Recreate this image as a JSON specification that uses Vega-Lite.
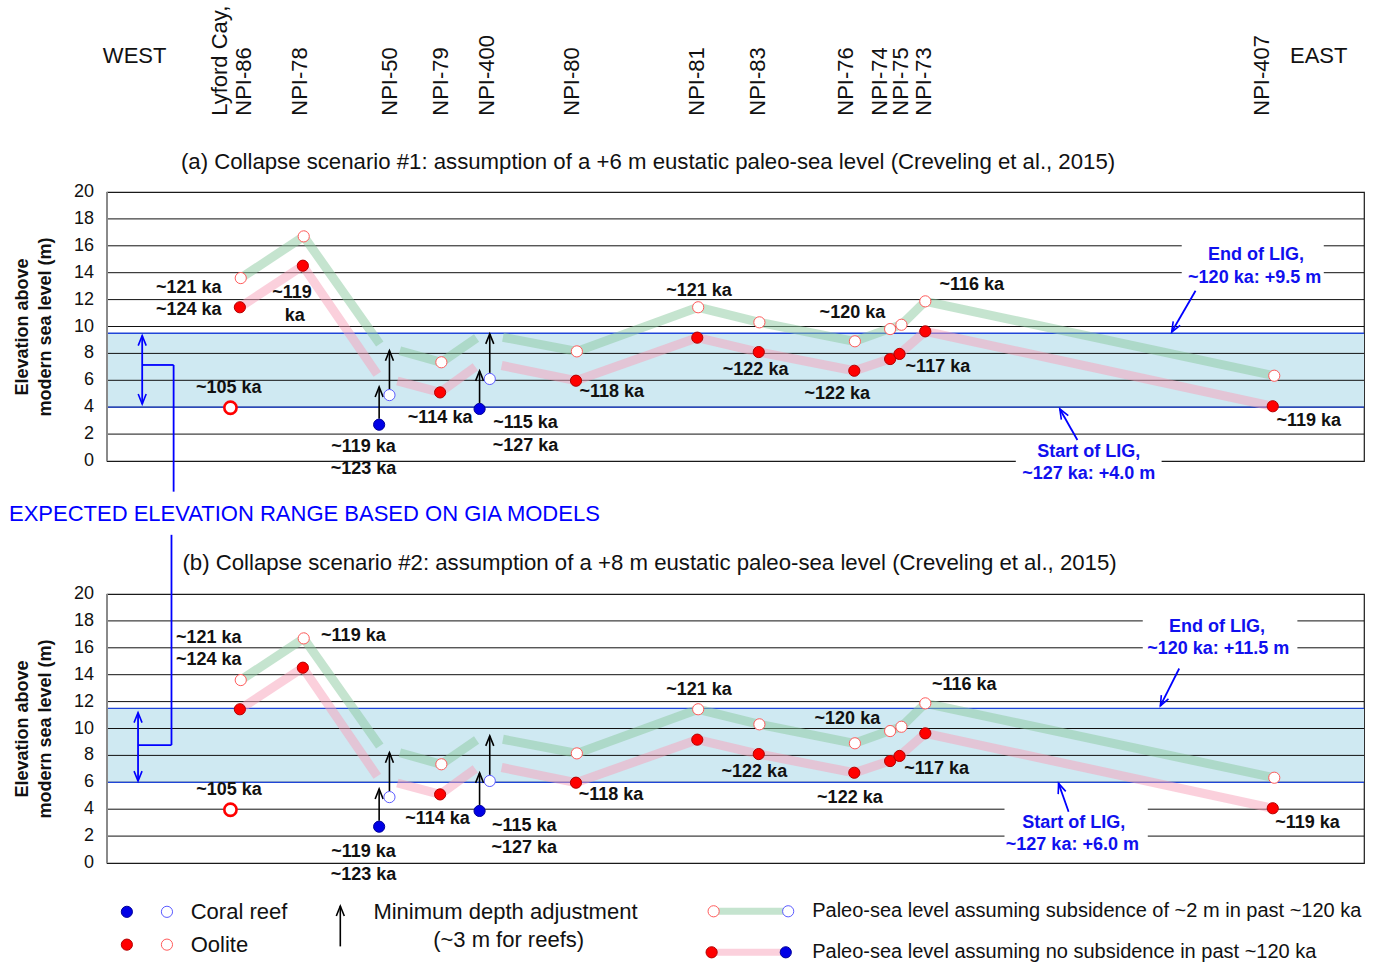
{
  "$schema": "https://vega.github.io/schema/vega-lite/v6.json",
  "background": "white",
  "padding": {"left": 8, "top": 5, "right": 5, "bottom": 0},
  "bounds": "flush",
  "spacing": 133,
  "config": {
    "font": "Liberation Sans",
    "view": {"stroke": "#1a1a1a", "strokeWidth": 1.2}
  },
  "datasets": {
    "grid": [{"y": 2}, {"y": 4}, {"y": 6}, {"y": 8}, {"y": 10}, {"y": 12}, {"y": 14}, {"y": 16}, {"y": 18}],
    "yticks": [
      {"t": "0", "x": -1.03, "y": 0}, {"t": "2", "x": -1.03, "y": 2}, {"t": "4", "x": -1.03, "y": 4},
      {"t": "6", "x": -1.03, "y": 6}, {"t": "8", "x": -1.03, "y": 8}, {"t": "10", "x": -1.03, "y": 10},
      {"t": "12", "x": -1.03, "y": 12}, {"t": "14", "x": -1.03, "y": 14}, {"t": "16", "x": -1.03, "y": 16},
      {"t": "18", "x": -1.03, "y": 18}, {"t": "20", "x": -1.03, "y": 20}
    ],
    "ytitle": [
      {"t": "Elevation above", "x": -6.7, "y": 9.96},
      {"t": "modern sea level (m)", "x": -4.85, "y": 9.96}
    ],
    "leftEdge": [{"x": 0, "y": 0, "y2": 20}],
    "bandA": [{"y": 4.0, "y2": 9.5}],
    "bandB": [{"y": 6.0, "y2": 11.5}],
    "edgesA": [{"y": 4.0}, {"y": 9.5}],
    "edgesB": [{"y": 6.0}, {"y": 11.5}],
    "boxA": [{"x": 85.5, "x2": 96.8, "y": 12.6, "y2": 17.0}, {"x": 72.3, "x2": 83.9, "y": -2.5, "y2": 1.7}],
    "boxB": [{"x": 82.4, "x2": 94.7, "y": 14.8, "y2": 19.0}, {"x": 71.4, "x2": 82.8, "y": 0.5, "y2": 5.0}],
    "pts": [
      {"station": "NPI-86", "x": 10.64, "y": 13.6, "k": "oolite_open"},
      {"station": "NPI-86", "x": 10.57, "y": 11.43, "k": "oolite_filled"},
      {"station": "NPI-78", "x": 15.65, "y": 16.7, "k": "oolite_open"},
      {"station": "NPI-78", "x": 15.58, "y": 14.52, "k": "oolite_filled"},
      {"station": "NPI-50", "x": 22.47, "y": 4.9, "k": "reef_open"},
      {"station": "NPI-50", "x": 21.65, "y": 2.7, "k": "reef_filled"},
      {"station": "NPI-79", "x": 26.6, "y": 7.34, "k": "oolite_open"},
      {"station": "NPI-79", "x": 26.5, "y": 5.1, "k": "oolite_filled"},
      {"station": "NPI-400", "x": 30.45, "y": 6.1, "k": "reef_open"},
      {"station": "NPI-400", "x": 29.64, "y": 3.87, "k": "reef_filled"},
      {"station": "NPI-80", "x": 37.38, "y": 8.15, "k": "oolite_open"},
      {"station": "NPI-80", "x": 37.31, "y": 5.97, "k": "oolite_filled"},
      {"station": "NPI-81", "x": 47.03, "y": 11.43, "k": "oolite_open"},
      {"station": "NPI-81", "x": 46.96, "y": 9.17, "k": "oolite_filled"},
      {"station": "NPI-83", "x": 51.9, "y": 10.31, "k": "oolite_open"},
      {"station": "NPI-83", "x": 51.85, "y": 8.1, "k": "oolite_filled"},
      {"station": "NPI-76", "x": 59.5, "y": 8.9, "k": "oolite_open"},
      {"station": "NPI-76", "x": 59.45, "y": 6.71, "k": "oolite_filled"},
      {"station": "NPI-74", "x": 62.3, "y": 9.81, "k": "oolite_open"},
      {"station": "NPI-74", "x": 62.3, "y": 7.58, "k": "oolite_filled"},
      {"station": "NPI-75", "x": 63.2, "y": 10.13, "k": "oolite_open"},
      {"station": "NPI-75", "x": 63.05, "y": 7.96, "k": "oolite_filled"},
      {"station": "NPI-73", "x": 65.1, "y": 11.87, "k": "oolite_open"},
      {"station": "NPI-73", "x": 65.1, "y": 9.64, "k": "oolite_filled"},
      {"station": "NPI-407", "x": 92.86, "y": 6.34, "k": "oolite_open"},
      {"station": "NPI-407", "x": 92.74, "y": 4.07, "k": "oolite_filled"}
    ],
    "ring": [{"station": "Lyford Cay", "x": 9.82, "y": 3.96}],
    "paths": [
      {"s": "subsidence ~2 m", "seg": "g1", "x": 10.64, "y": 13.6},
      {"s": "subsidence ~2 m", "seg": "g1", "x": 15.65, "y": 16.7},
      {"s": "subsidence ~2 m", "seg": "g1", "x": 21.7, "y": 8.7},
      {"s": "subsidence ~2 m", "seg": "g2", "x": 23.3, "y": 8.2},
      {"s": "subsidence ~2 m", "seg": "g2", "x": 26.6, "y": 7.34},
      {"s": "subsidence ~2 m", "seg": "g2", "x": 29.4, "y": 9.15},
      {"s": "subsidence ~2 m", "seg": "g3", "x": 31.5, "y": 9.2},
      {"s": "subsidence ~2 m", "seg": "g3", "x": 37.38, "y": 8.15},
      {"s": "subsidence ~2 m", "seg": "g3", "x": 47.03, "y": 11.43},
      {"s": "subsidence ~2 m", "seg": "g3", "x": 51.9, "y": 10.31},
      {"s": "subsidence ~2 m", "seg": "g3", "x": 59.45, "y": 8.9},
      {"s": "subsidence ~2 m", "seg": "g3", "x": 62.3, "y": 9.85},
      {"s": "subsidence ~2 m", "seg": "g3", "x": 63.2, "y": 10.13},
      {"s": "subsidence ~2 m", "seg": "g3", "x": 65.1, "y": 11.87},
      {"s": "subsidence ~2 m", "seg": "g3", "x": 92.86, "y": 6.34},
      {"s": "no subsidence", "seg": "p1", "x": 10.57, "y": 11.43},
      {"s": "no subsidence", "seg": "p1", "x": 15.58, "y": 14.52},
      {"s": "no subsidence", "seg": "p1", "x": 21.5, "y": 6.45},
      {"s": "no subsidence", "seg": "p2", "x": 23.1, "y": 5.95},
      {"s": "no subsidence", "seg": "p2", "x": 26.5, "y": 5.1},
      {"s": "no subsidence", "seg": "p2", "x": 29.3, "y": 7.0},
      {"s": "no subsidence", "seg": "p3", "x": 31.4, "y": 7.1},
      {"s": "no subsidence", "seg": "p3", "x": 37.31, "y": 5.97},
      {"s": "no subsidence", "seg": "p3", "x": 46.96, "y": 9.17},
      {"s": "no subsidence", "seg": "p3", "x": 51.85, "y": 8.1},
      {"s": "no subsidence", "seg": "p3", "x": 59.45, "y": 6.71},
      {"s": "no subsidence", "seg": "p3", "x": 62.3, "y": 7.6},
      {"s": "no subsidence", "seg": "p3", "x": 63.05, "y": 7.96},
      {"s": "no subsidence", "seg": "p3", "x": 65.1, "y": 9.64},
      {"s": "no subsidence", "seg": "p3", "x": 92.74, "y": 4.07}
    ],
    "adj": [
      {"x": 21.65, "y": 3.15, "y2": 5.5},
      {"x": 22.47, "y": 5.35, "y2": 8.2},
      {"x": 29.64, "y": 4.3, "y2": 6.7},
      {"x": 30.45, "y": 6.55, "y2": 9.45}
    ],
    "adjHeads": [
      {"x": 21.65, "y": 5.5},
      {"x": 22.47, "y": 8.2},
      {"x": 29.64, "y": 6.7},
      {"x": 30.45, "y": 9.45}
    ],
    "blueA": [
      {"x": 2.8, "y": 4.24, "x2": 2.8, "y2": 9.32},
      {"x": 2.8, "y": 7.14, "x2": 5.3, "y2": 7.14},
      {"x": 5.3, "y": 7.14, "x2": 5.3, "y2": -2.28},
      {"x": 86.6, "y": 12.66, "x2": 84.7, "y2": 9.59},
      {"x": 77.2, "y": 1.56, "x2": 75.8, "y2": 3.87}
    ],
    "blueHeadsA": [
      {"x": 2.8, "y": 9.32, "ang": 0},
      {"x": 2.8, "y": 4.24, "ang": 180},
      {"x": 84.7, "y": 9.59, "ang": 210},
      {"x": 75.8, "y": 3.87, "ang": 330}
    ],
    "blueB": [
      {"x": 2.47, "y": 6.09, "x2": 2.47, "y2": 11.18},
      {"x": 2.47, "y": 8.77, "x2": 5.13, "y2": 8.77},
      {"x": 5.13, "y": 8.77, "x2": 5.13, "y2": 24.4},
      {"x": 85.3, "y": 14.46, "x2": 83.8, "y2": 11.68},
      {"x": 76.5, "y": 3.81, "x2": 75.7, "y2": 5.92}
    ],
    "blueHeadsB": [
      {"x": 2.47, "y": 11.18, "ang": 0},
      {"x": 2.47, "y": 6.09, "ang": 180},
      {"x": 83.8, "y": 11.68, "ang": 207},
      {"x": 75.7, "y": 5.92, "ang": 340}
    ],
    "labA": [
      {"t": "~121 ka", "x": 6.5, "y": 12.86},
      {"t": "~124 ka", "x": 6.5, "y": 11.2},
      {"t": "~119", "x": 14.72, "y": 12.47},
      {"t": "ka", "x": 14.94, "y": 10.8},
      {"t": "~105 ka", "x": 9.68, "y": 5.4},
      {"t": "~119 ka", "x": 20.4, "y": 1.07},
      {"t": "~123 ka", "x": 20.4, "y": -0.6},
      {"t": "~114 ka", "x": 26.5, "y": 3.2},
      {"t": "~115 ka", "x": 33.3, "y": 2.8},
      {"t": "~127 ka", "x": 33.3, "y": 1.14},
      {"t": "~118 ka", "x": 40.15, "y": 5.1},
      {"t": "~121 ka", "x": 47.1, "y": 12.64},
      {"t": "~122 ka", "x": 51.6, "y": 6.8},
      {"t": "~120 ka", "x": 59.3, "y": 11.0},
      {"t": "~122 ka", "x": 58.1, "y": 4.98},
      {"t": "~116 ka", "x": 68.8, "y": 13.05},
      {"t": "~117 ka", "x": 66.1, "y": 6.98},
      {"t": "~119 ka", "x": 95.6, "y": 3.0}
    ],
    "ligA": [
      {"t": "End of LIG,", "x": 91.4, "y": 15.28},
      {"t": "~120 ka: +9.5 m", "x": 91.3, "y": 13.6},
      {"t": "Start of LIG,", "x": 78.1, "y": 0.68},
      {"t": "~127 ka: +4.0 m", "x": 78.1, "y": -0.96}
    ],
    "labB": [
      {"t": "~121 ka", "x": 8.1, "y": 16.72},
      {"t": "~124 ka", "x": 8.1, "y": 15.08},
      {"t": "~119 ka", "x": 19.6, "y": 16.89},
      {"t": "~105 ka", "x": 9.7, "y": 5.42},
      {"t": "~119 ka", "x": 20.4, "y": 0.8},
      {"t": "~123 ka", "x": 20.4, "y": -0.86},
      {"t": "~114 ka", "x": 26.3, "y": 3.24},
      {"t": "~115 ka", "x": 33.2, "y": 2.74},
      {"t": "~127 ka", "x": 33.2, "y": 1.13},
      {"t": "~118 ka", "x": 40.1, "y": 5.03},
      {"t": "~121 ka", "x": 47.1, "y": 12.84},
      {"t": "~122 ka", "x": 51.5, "y": 6.79},
      {"t": "~120 ka", "x": 58.9, "y": 10.69},
      {"t": "~122 ka", "x": 59.1, "y": 4.85},
      {"t": "~116 ka", "x": 68.2, "y": 13.22},
      {"t": "~117 ka", "x": 66.0, "y": 7.01},
      {"t": "~119 ka", "x": 95.5, "y": 2.99}
    ],
    "ligB": [
      {"t": "End of LIG,", "x": 88.3, "y": 17.56},
      {"t": "~120 ka: +11.5 m", "x": 88.4, "y": 15.9},
      {"t": "Start of LIG,", "x": 76.9, "y": 2.99},
      {"t": "~127 ka: +6.0 m", "x": 76.8, "y": 1.33}
    ],
    "stations": [
      {"t": "Lyford Cay,", "x": 8.97, "y": 25.67},
      {"t": "NPI-86", "x": 10.92, "y": 25.67},
      {"t": "NPI-78", "x": 15.37, "y": 25.67},
      {"t": "NPI-50", "x": 22.5, "y": 25.67},
      {"t": "NPI-79", "x": 26.6, "y": 25.67},
      {"t": "NPI-400", "x": 30.2, "y": 25.67},
      {"t": "NPI-80", "x": 37.0, "y": 25.67},
      {"t": "NPI-81", "x": 46.9, "y": 25.67},
      {"t": "NPI-83", "x": 51.8, "y": 25.67},
      {"t": "NPI-76", "x": 58.8, "y": 25.67},
      {"t": "NPI-74", "x": 61.5, "y": 25.67},
      {"t": "NPI-75", "x": 63.2, "y": 25.67},
      {"t": "NPI-73", "x": 65.0, "y": 25.67},
      {"t": "NPI-407", "x": 91.9, "y": 25.67}
    ],
    "ends": [
      {"t": "WEST", "x": 2.2, "y": 30.09},
      {"t": "EAST", "x": 96.4, "y": 30.09}
    ],
    "titleA": [{"t": "(a) Collapse scenario #1: assumption of a +6 m eustatic paleo-sea level (Creveling et al., 2015)", "x": 43.04, "y": 22.23}],
    "titleB": [{"t": "(b) Collapse scenario #2: assumption of a +8 m eustatic paleo-sea level (Creveling et al., 2015)", "x": 43.16, "y": 22.31}],
    "gia": [{"t": "EXPECTED ELEVATION RANGE BASED ON GIA MODELS", "x": -7.8, "y": -3.94}],
    "legendPts": [
      {"x": 1.58, "y": -3.63, "k": "reef_filled"},
      {"x": 4.77, "y": -3.63, "k": "reef_open"},
      {"x": 1.58, "y": -6.07, "k": "oolite_filled"},
      {"x": 4.77, "y": -6.07, "k": "oolite_open"},
      {"x": 48.26, "y": -3.59, "k": "oolite_open"},
      {"x": 54.19, "y": -3.59, "k": "reef_open"},
      {"x": 48.1, "y": -6.64, "k": "oolite_filled"},
      {"x": 54.0, "y": -6.64, "k": "reef_filled"}
    ],
    "legendBars": [
      {"s": "subsidence ~2 m", "x": 48.26, "x2": 54.19, "y": -3.59},
      {"s": "no subsidence", "x": 48.1, "x2": 54.0, "y": -6.64}
    ],
    "legendAdj": [{"x": 18.56, "y": -6.2, "y2": -3.2}],
    "legendAdjHead": [{"x": 18.56, "y": -3.2}],
    "legendTextL": [
      {"t": "Coral reef", "x": 6.66, "y": -3.63},
      {"t": "Oolite", "x": 6.66, "y": -6.07}
    ],
    "legendTextC": [
      {"t": "Minimum depth adjustment", "x": 31.7, "y": -3.63},
      {"t": "(~3 m for reefs)", "x": 31.95, "y": -5.7}
    ],
    "legendTextS": [
      {"t": "Paleo-sea level assuming subsidence of ~2 m in past ~120 ka", "x": 56.1, "y": -3.59},
      {"t": "Paleo-sea level assuming no subsidence in past ~120 ka", "x": 56.1, "y": -6.64}
    ]
  },
  "vconcat": [
    {
      "width": 1257,
      "height": 269,
      "layer": [
        {"data": {"name": "bandA"}, "mark": {"type": "rect", "fill": "#cfe9f2"},
         "encoding": {"y": {"field": "y", "type": "quantitative", "scale": {"domain": [0, 20], "nice": false, "zero": false}, "axis": null}, "y2": {"field": "y2"}}},
        {"data": {"name": "grid"}, "mark": {"type": "rule", "stroke": "#111111", "strokeWidth": 1},
         "encoding": {"y": {"field": "y", "type": "quantitative", "scale": {"domain": [0, 20], "nice": false, "zero": false}, "axis": null}}},
        {"data": {"name": "edgesA"}, "mark": {"type": "rule", "stroke": "#1f45d8", "strokeWidth": 1.3},
         "encoding": {"y": {"field": "y", "type": "quantitative", "scale": {"domain": [0, 20], "nice": false, "zero": false}, "axis": null}}},
        {"data": {"name": "boxA"}, "mark": {"type": "rect", "fill": "#ffffff"},
         "encoding": {"x": {"field": "x", "type": "quantitative", "scale": {"domain": [0, 100], "nice": false, "zero": false}, "axis": null}, "x2": {"field": "x2"},
                      "y": {"field": "y", "type": "quantitative", "scale": {"domain": [0, 20], "nice": false, "zero": false}, "axis": null}, "y2": {"field": "y2"}}},
        {"data": {"name": "leftEdge"}, "mark": {"type": "rule", "stroke": "#8a8a8a", "strokeWidth": 2},
         "encoding": {"x": {"field": "x", "type": "quantitative", "scale": {"domain": [0, 100], "nice": false, "zero": false}, "axis": null},
                      "y": {"field": "y", "type": "quantitative", "scale": {"domain": [0, 20], "nice": false, "zero": false}, "axis": null}, "y2": {"field": "y2"}}},
        {"data": {"name": "yticks"}, "mark": {"type": "text", "align": "right", "fontSize": 18, "color": "#111111"},
         "encoding": {"x": {"field": "x", "type": "quantitative", "scale": {"domain": [0, 100], "nice": false, "zero": false}, "axis": null},
                      "y": {"field": "y", "type": "quantitative", "scale": {"domain": [0, 20], "nice": false, "zero": false}, "axis": null}, "text": {"field": "t"}}},
        {"data": {"name": "ytitle"}, "mark": {"type": "text", "angle": 270, "fontSize": 18, "fontWeight": "bold", "color": "#111111"},
         "encoding": {"x": {"field": "x", "type": "quantitative", "scale": {"domain": [0, 100], "nice": false, "zero": false}, "axis": null},
                      "y": {"field": "y", "type": "quantitative", "scale": {"domain": [0, 20], "nice": false, "zero": false}, "axis": null}, "text": {"field": "t"}}},
        {"data": {"name": "paths"}, "mark": {"type": "line", "strokeWidth": 9, "opacity": 0.5},
         "encoding": {"x": {"field": "x", "type": "quantitative", "scale": {"domain": [0, 100], "nice": false, "zero": false}, "axis": null},
                      "y": {"field": "y", "type": "quantitative", "scale": {"domain": [0, 20], "nice": false, "zero": false}, "axis": null},
                      "color": {"field": "s", "type": "nominal", "scale": {"domain": ["subsidence ~2 m", "no subsidence"], "range": ["#8ccaa0", "#f7a1b9"]}, "legend": null},
                      "detail": {"field": "seg"}}},
        {"data": {"name": "adj"}, "mark": {"type": "rule", "stroke": "#000000", "strokeWidth": 1.6},
         "encoding": {"x": {"field": "x", "type": "quantitative", "scale": {"domain": [0, 100], "nice": false, "zero": false}, "axis": null},
                      "y": {"field": "y", "type": "quantitative", "scale": {"domain": [0, 20], "nice": false, "zero": false}, "axis": null}, "y2": {"field": "y2"}}},
        {"data": {"name": "adjHeads"}, "mark": {"type": "point", "shape": "M -0.8 2 L 0 0 L 0.8 2", "filled": false, "color": "#000000", "strokeWidth": 1.6, "size": 100, "opacity": 1},
         "encoding": {"x": {"field": "x", "type": "quantitative", "scale": {"domain": [0, 100], "nice": false, "zero": false}, "axis": null},
                      "y": {"field": "y", "type": "quantitative", "scale": {"domain": [0, 20], "nice": false, "zero": false}, "axis": null}}},
        {"data": {"name": "blueA"}, "mark": {"type": "rule", "stroke": "#0000ff", "strokeWidth": 1.8},
         "encoding": {"x": {"field": "x", "type": "quantitative", "scale": {"domain": [0, 100], "nice": false, "zero": false}, "axis": null}, "x2": {"field": "x2"},
                      "y": {"field": "y", "type": "quantitative", "scale": {"domain": [0, 20], "nice": false, "zero": false}, "axis": null}, "y2": {"field": "y2"}}},
        {"data": {"name": "blueHeadsA"}, "mark": {"type": "point", "shape": "M -0.8 2 L 0 0 L 0.8 2", "filled": false, "color": "#0000ff", "strokeWidth": 1.6, "size": 100, "opacity": 1},
         "encoding": {"x": {"field": "x", "type": "quantitative", "scale": {"domain": [0, 100], "nice": false, "zero": false}, "axis": null},
                      "y": {"field": "y", "type": "quantitative", "scale": {"domain": [0, 20], "nice": false, "zero": false}, "axis": null},
                      "angle": {"field": "ang", "type": "quantitative", "scale": null}}},
        {"data": {"name": "pts"}, "mark": {"type": "point", "filled": true, "size": 125, "strokeWidth": 1, "opacity": 1},
         "encoding": {
           "x": {"field": "x", "type": "quantitative", "scale": {"domain": [0, 100], "nice": false, "zero": false}, "axis": null},
           "y": {"field": "y", "type": "quantitative", "scale": {"domain": [0, 20], "nice": false, "zero": false}, "axis": null},
           "fill": {"field": "k", "type": "nominal", "scale": {"domain": ["oolite_filled", "oolite_open", "reef_filled", "reef_open"], "range": ["#ff0000", "#ffffff", "#0000e6", "#ffffff"]}, "legend": null},
           "stroke": {"field": "k", "type": "nominal", "scale": {"domain": ["oolite_filled", "oolite_open", "reef_filled", "reef_open"], "range": ["#b30000", "#ff5c5c", "#000099", "#5c5cff"]}, "legend": null}}},
        {"data": {"name": "ring"}, "mark": {"type": "point", "filled": true, "fill": "#ffffff", "stroke": "#ff0000", "strokeWidth": 2.6, "size": 150, "opacity": 1},
         "encoding": {"x": {"field": "x", "type": "quantitative", "scale": {"domain": [0, 100], "nice": false, "zero": false}, "axis": null},
                      "y": {"field": "y", "type": "quantitative", "scale": {"domain": [0, 20], "nice": false, "zero": false}, "axis": null}}},
        {"data": {"name": "labA"}, "mark": {"type": "text", "fontSize": 18, "fontWeight": "bold", "color": "#111111"},
         "encoding": {"x": {"field": "x", "type": "quantitative", "scale": {"domain": [0, 100], "nice": false, "zero": false}, "axis": null},
                      "y": {"field": "y", "type": "quantitative", "scale": {"domain": [0, 20], "nice": false, "zero": false}, "axis": null}, "text": {"field": "t"}}},
        {"data": {"name": "ligA"}, "mark": {"type": "text", "fontSize": 18, "fontWeight": "bold", "color": "#1010ee"},
         "encoding": {"x": {"field": "x", "type": "quantitative", "scale": {"domain": [0, 100], "nice": false, "zero": false}, "axis": null},
                      "y": {"field": "y", "type": "quantitative", "scale": {"domain": [0, 20], "nice": false, "zero": false}, "axis": null}, "text": {"field": "t"}}},
        {"data": {"name": "titleA"}, "mark": {"type": "text", "fontSize": 22.2, "color": "#111111"},
         "encoding": {"x": {"field": "x", "type": "quantitative", "scale": {"domain": [0, 100], "nice": false, "zero": false}, "axis": null},
                      "y": {"field": "y", "type": "quantitative", "scale": {"domain": [0, 20], "nice": false, "zero": false}, "axis": null}, "text": {"field": "t"}}},
        {"data": {"name": "stations"}, "mark": {"type": "text", "angle": 270, "align": "left", "baseline": "middle", "fontSize": 22, "color": "#111111"},
         "encoding": {"x": {"field": "x", "type": "quantitative", "scale": {"domain": [0, 100], "nice": false, "zero": false}, "axis": null},
                      "y": {"field": "y", "type": "quantitative", "scale": {"domain": [0, 20], "nice": false, "zero": false}, "axis": null}, "text": {"field": "t"}}},
        {"data": {"name": "ends"}, "mark": {"type": "text", "fontSize": 22, "color": "#111111"},
         "encoding": {"x": {"field": "x", "type": "quantitative", "scale": {"domain": [0, 100], "nice": false, "zero": false}, "axis": null},
                      "y": {"field": "y", "type": "quantitative", "scale": {"domain": [0, 20], "nice": false, "zero": false}, "axis": null}, "text": {"field": "t"}}},
        {"data": {"name": "gia"}, "mark": {"type": "text", "align": "left", "fontSize": 22, "color": "#0000ff"},
         "encoding": {"x": {"field": "x", "type": "quantitative", "scale": {"domain": [0, 100], "nice": false, "zero": false}, "axis": null},
                      "y": {"field": "y", "type": "quantitative", "scale": {"domain": [0, 20], "nice": false, "zero": false}, "axis": null}, "text": {"field": "t"}}}
      ]
    },
    {
      "width": 1257,
      "height": 269,
      "layer": [
        {"data": {"name": "bandB"}, "mark": {"type": "rect", "fill": "#cfe9f2"},
         "encoding": {"y": {"field": "y", "type": "quantitative", "scale": {"domain": [0, 20], "nice": false, "zero": false}, "axis": null}, "y2": {"field": "y2"}}},
        {"data": {"name": "grid"}, "mark": {"type": "rule", "stroke": "#111111", "strokeWidth": 1},
         "encoding": {"y": {"field": "y", "type": "quantitative", "scale": {"domain": [0, 20], "nice": false, "zero": false}, "axis": null}}},
        {"data": {"name": "edgesB"}, "mark": {"type": "rule", "stroke": "#1f45d8", "strokeWidth": 1.3},
         "encoding": {"y": {"field": "y", "type": "quantitative", "scale": {"domain": [0, 20], "nice": false, "zero": false}, "axis": null}}},
        {"data": {"name": "boxB"}, "mark": {"type": "rect", "fill": "#ffffff"},
         "encoding": {"x": {"field": "x", "type": "quantitative", "scale": {"domain": [0, 100], "nice": false, "zero": false}, "axis": null}, "x2": {"field": "x2"},
                      "y": {"field": "y", "type": "quantitative", "scale": {"domain": [0, 20], "nice": false, "zero": false}, "axis": null}, "y2": {"field": "y2"}}},
        {"data": {"name": "leftEdge"}, "mark": {"type": "rule", "stroke": "#8a8a8a", "strokeWidth": 2},
         "encoding": {"x": {"field": "x", "type": "quantitative", "scale": {"domain": [0, 100], "nice": false, "zero": false}, "axis": null},
                      "y": {"field": "y", "type": "quantitative", "scale": {"domain": [0, 20], "nice": false, "zero": false}, "axis": null}, "y2": {"field": "y2"}}},
        {"data": {"name": "yticks"}, "mark": {"type": "text", "align": "right", "fontSize": 18, "color": "#111111"},
         "encoding": {"x": {"field": "x", "type": "quantitative", "scale": {"domain": [0, 100], "nice": false, "zero": false}, "axis": null},
                      "y": {"field": "y", "type": "quantitative", "scale": {"domain": [0, 20], "nice": false, "zero": false}, "axis": null}, "text": {"field": "t"}}},
        {"data": {"name": "ytitle"}, "mark": {"type": "text", "angle": 270, "fontSize": 18, "fontWeight": "bold", "color": "#111111"},
         "encoding": {"x": {"field": "x", "type": "quantitative", "scale": {"domain": [0, 100], "nice": false, "zero": false}, "axis": null},
                      "y": {"field": "y", "type": "quantitative", "scale": {"domain": [0, 20], "nice": false, "zero": false}, "axis": null}, "text": {"field": "t"}}},
        {"data": {"name": "paths"}, "mark": {"type": "line", "strokeWidth": 9, "opacity": 0.5},
         "encoding": {"x": {"field": "x", "type": "quantitative", "scale": {"domain": [0, 100], "nice": false, "zero": false}, "axis": null},
                      "y": {"field": "y", "type": "quantitative", "scale": {"domain": [0, 20], "nice": false, "zero": false}, "axis": null},
                      "color": {"field": "s", "type": "nominal", "scale": {"domain": ["subsidence ~2 m", "no subsidence"], "range": ["#8ccaa0", "#f7a1b9"]}, "legend": null},
                      "detail": {"field": "seg"}}},
        {"data": {"name": "legendBars"}, "mark": {"type": "rule", "strokeWidth": 7, "opacity": 0.5},
         "encoding": {"x": {"field": "x", "type": "quantitative", "scale": {"domain": [0, 100], "nice": false, "zero": false}, "axis": null}, "x2": {"field": "x2"},
                      "y": {"field": "y", "type": "quantitative", "scale": {"domain": [0, 20], "nice": false, "zero": false}, "axis": null},
                      "color": {"field": "s", "type": "nominal", "scale": {"domain": ["subsidence ~2 m", "no subsidence"], "range": ["#8ccaa0", "#f7a1b9"]}, "legend": null}}},
        {"data": {"name": "adj"}, "mark": {"type": "rule", "stroke": "#000000", "strokeWidth": 1.6},
         "encoding": {"x": {"field": "x", "type": "quantitative", "scale": {"domain": [0, 100], "nice": false, "zero": false}, "axis": null},
                      "y": {"field": "y", "type": "quantitative", "scale": {"domain": [0, 20], "nice": false, "zero": false}, "axis": null}, "y2": {"field": "y2"}}},
        {"data": {"name": "adjHeads"}, "mark": {"type": "point", "shape": "M -0.8 2 L 0 0 L 0.8 2", "filled": false, "color": "#000000", "strokeWidth": 1.6, "size": 100, "opacity": 1},
         "encoding": {"x": {"field": "x", "type": "quantitative", "scale": {"domain": [0, 100], "nice": false, "zero": false}, "axis": null},
                      "y": {"field": "y", "type": "quantitative", "scale": {"domain": [0, 20], "nice": false, "zero": false}, "axis": null}}},
        {"data": {"name": "legendAdj"}, "mark": {"type": "rule", "stroke": "#000000", "strokeWidth": 1.6},
         "encoding": {"x": {"field": "x", "type": "quantitative", "scale": {"domain": [0, 100], "nice": false, "zero": false}, "axis": null},
                      "y": {"field": "y", "type": "quantitative", "scale": {"domain": [0, 20], "nice": false, "zero": false}, "axis": null}, "y2": {"field": "y2"}}},
        {"data": {"name": "legendAdjHead"}, "mark": {"type": "point", "shape": "M -0.8 2 L 0 0 L 0.8 2", "filled": false, "color": "#000000", "strokeWidth": 1.6, "size": 100, "opacity": 1},
         "encoding": {"x": {"field": "x", "type": "quantitative", "scale": {"domain": [0, 100], "nice": false, "zero": false}, "axis": null},
                      "y": {"field": "y", "type": "quantitative", "scale": {"domain": [0, 20], "nice": false, "zero": false}, "axis": null}}},
        {"data": {"name": "blueB"}, "mark": {"type": "rule", "stroke": "#0000ff", "strokeWidth": 1.8},
         "encoding": {"x": {"field": "x", "type": "quantitative", "scale": {"domain": [0, 100], "nice": false, "zero": false}, "axis": null}, "x2": {"field": "x2"},
                      "y": {"field": "y", "type": "quantitative", "scale": {"domain": [0, 20], "nice": false, "zero": false}, "axis": null}, "y2": {"field": "y2"}}},
        {"data": {"name": "blueHeadsB"}, "mark": {"type": "point", "shape": "M -0.8 2 L 0 0 L 0.8 2", "filled": false, "color": "#0000ff", "strokeWidth": 1.6, "size": 100, "opacity": 1},
         "encoding": {"x": {"field": "x", "type": "quantitative", "scale": {"domain": [0, 100], "nice": false, "zero": false}, "axis": null},
                      "y": {"field": "y", "type": "quantitative", "scale": {"domain": [0, 20], "nice": false, "zero": false}, "axis": null},
                      "angle": {"field": "ang", "type": "quantitative", "scale": null}}},
        {"data": {"name": "pts"}, "mark": {"type": "point", "filled": true, "size": 125, "strokeWidth": 1, "opacity": 1},
         "encoding": {
           "x": {"field": "x", "type": "quantitative", "scale": {"domain": [0, 100], "nice": false, "zero": false}, "axis": null},
           "y": {"field": "y", "type": "quantitative", "scale": {"domain": [0, 20], "nice": false, "zero": false}, "axis": null},
           "fill": {"field": "k", "type": "nominal", "scale": {"domain": ["oolite_filled", "oolite_open", "reef_filled", "reef_open"], "range": ["#ff0000", "#ffffff", "#0000e6", "#ffffff"]}, "legend": null},
           "stroke": {"field": "k", "type": "nominal", "scale": {"domain": ["oolite_filled", "oolite_open", "reef_filled", "reef_open"], "range": ["#b30000", "#ff5c5c", "#000099", "#5c5cff"]}, "legend": null}}},
        {"data": {"name": "legendPts"}, "mark": {"type": "point", "filled": true, "size": 125, "strokeWidth": 1, "opacity": 1},
         "encoding": {
           "x": {"field": "x", "type": "quantitative", "scale": {"domain": [0, 100], "nice": false, "zero": false}, "axis": null},
           "y": {"field": "y", "type": "quantitative", "scale": {"domain": [0, 20], "nice": false, "zero": false}, "axis": null},
           "fill": {"field": "k", "type": "nominal", "scale": {"domain": ["oolite_filled", "oolite_open", "reef_filled", "reef_open"], "range": ["#ff0000", "#ffffff", "#0000e6", "#ffffff"]}, "legend": null},
           "stroke": {"field": "k", "type": "nominal", "scale": {"domain": ["oolite_filled", "oolite_open", "reef_filled", "reef_open"], "range": ["#b30000", "#ff5c5c", "#000099", "#5c5cff"]}, "legend": null}}},
        {"data": {"name": "ring"}, "mark": {"type": "point", "filled": true, "fill": "#ffffff", "stroke": "#ff0000", "strokeWidth": 2.6, "size": 150, "opacity": 1},
         "encoding": {"x": {"field": "x", "type": "quantitative", "scale": {"domain": [0, 100], "nice": false, "zero": false}, "axis": null},
                      "y": {"field": "y", "type": "quantitative", "scale": {"domain": [0, 20], "nice": false, "zero": false}, "axis": null}}},
        {"data": {"name": "labB"}, "mark": {"type": "text", "fontSize": 18, "fontWeight": "bold", "color": "#111111"},
         "encoding": {"x": {"field": "x", "type": "quantitative", "scale": {"domain": [0, 100], "nice": false, "zero": false}, "axis": null},
                      "y": {"field": "y", "type": "quantitative", "scale": {"domain": [0, 20], "nice": false, "zero": false}, "axis": null}, "text": {"field": "t"}}},
        {"data": {"name": "ligB"}, "mark": {"type": "text", "fontSize": 18, "fontWeight": "bold", "color": "#1010ee"},
         "encoding": {"x": {"field": "x", "type": "quantitative", "scale": {"domain": [0, 100], "nice": false, "zero": false}, "axis": null},
                      "y": {"field": "y", "type": "quantitative", "scale": {"domain": [0, 20], "nice": false, "zero": false}, "axis": null}, "text": {"field": "t"}}},
        {"data": {"name": "titleB"}, "mark": {"type": "text", "fontSize": 22.2, "color": "#111111"},
         "encoding": {"x": {"field": "x", "type": "quantitative", "scale": {"domain": [0, 100], "nice": false, "zero": false}, "axis": null},
                      "y": {"field": "y", "type": "quantitative", "scale": {"domain": [0, 20], "nice": false, "zero": false}, "axis": null}, "text": {"field": "t"}}},
        {"data": {"name": "legendTextL"}, "mark": {"type": "text", "align": "left", "fontSize": 22, "color": "#111111"},
         "encoding": {"x": {"field": "x", "type": "quantitative", "scale": {"domain": [0, 100], "nice": false, "zero": false}, "axis": null},
                      "y": {"field": "y", "type": "quantitative", "scale": {"domain": [0, 20], "nice": false, "zero": false}, "axis": null}, "text": {"field": "t"}}},
        {"data": {"name": "legendTextC"}, "mark": {"type": "text", "fontSize": 22, "color": "#111111"},
         "encoding": {"x": {"field": "x", "type": "quantitative", "scale": {"domain": [0, 100], "nice": false, "zero": false}, "axis": null},
                      "y": {"field": "y", "type": "quantitative", "scale": {"domain": [0, 20], "nice": false, "zero": false}, "axis": null}, "text": {"field": "t"}}},
        {"data": {"name": "legendTextS"}, "mark": {"type": "text", "align": "left", "fontSize": 20, "color": "#111111"},
         "encoding": {"x": {"field": "x", "type": "quantitative", "scale": {"domain": [0, 100], "nice": false, "zero": false}, "axis": null},
                      "y": {"field": "y", "type": "quantitative", "scale": {"domain": [0, 20], "nice": false, "zero": false}, "axis": null}, "text": {"field": "t"}}}
      ]
    }
  ]
}
